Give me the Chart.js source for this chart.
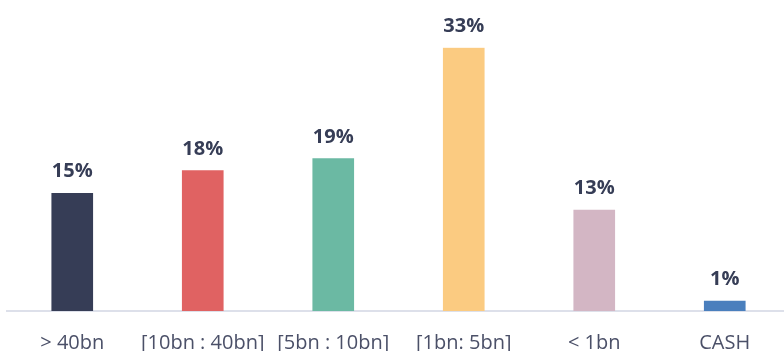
<!DOCTYPE html>
<html>
<head>
<meta charset="utf-8">
<script src="https://cdn.jsdelivr.net/npm/chart.js@4.4.1/dist/chart.umd.min.js"></script>
<style>
  html, body { margin: 0; padding: 0; background: #ffffff; overflow: hidden; width: 784px; height: 351px; }
  #wrap { position: absolute; left: 0; top: 0; width: 790px; height: 375px; }
</style>
</head>
<body>
<div id="wrap"><canvas id="c"></canvas></div>
<script>
const categories = ["> 40bn", "[10bn : 40bn]", "[5bn : 10bn]", "[1bn: 5bn]", "< 1bn", "CASH"];
const shares = [14.75, 17.6, 19.1, 33.0, 12.65, 1.25];
const shareLabels = ["15%", "18%", "19%", "33%", "13%", "1%"];
const barColors = ["#363d56", "#e06262", "#6bb9a3", "#fbcb81", "#d3b6c4", "#4a7fbd"];

const valueLabels = {
  id: 'valueLabels',
  afterDatasetsDraw(chart) {
    const ctx = chart.ctx;
    const meta = chart.getDatasetMeta(0);
    ctx.save();
    ctx.font = 'bold 20px "Open Sans", sans-serif';
    ctx.fillStyle = '#363d56';
    ctx.textAlign = 'center';
    ctx.textBaseline = 'alphabetic';
    meta.data.forEach((bar, i) => {
      ctx.fillText(shareLabels[i], bar.x, bar.y - 16);
    });
    ctx.restore();
  }
};

new Chart(document.getElementById('c'), {
  type: 'bar',
  data: {
    labels: categories,
    datasets: [{
      data: shares,
      backgroundColor: barColors,
      borderWidth: 0,
      barThickness: 41
    }]
  },
  options: {
    responsive: true,
    maintainAspectRatio: false,
    animation: false,
    layout: { padding: { left: 7, right: 0, top: 47.7, bottom: 0 } },
    plugins: { legend: { display: false }, tooltip: { enabled: false } },
    scales: {
      x: {
        grid: { display: false, drawTicks: false },
        border: { display: true, color: '#dde0ea', width: 2 },
        ticks: {
          autoSkip: false, maxRotation: 0, minRotation: 0, padding: 20,
          color: '#4b5068',
          font: { family: '"Open Sans", sans-serif', size: 20 }
        }
      },
      y: {
        display: false,
        min: 0, max: 33
      }
    }
  },
  plugins: [valueLabels]
});
</script>
</body>
</html>
